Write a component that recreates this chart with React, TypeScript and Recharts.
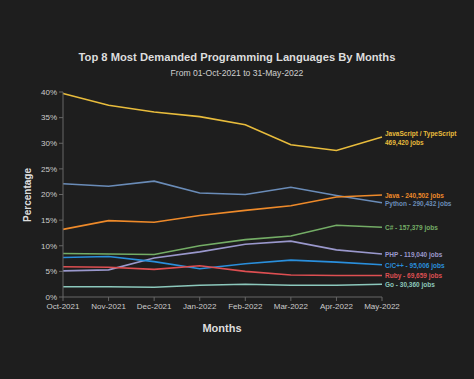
import { LineChart, Line, XAxis, YAxis, LabelList } from 'recharts'

const months = ['Oct-2021', 'Nov-2021', 'Dec-2021', 'Jan-2022', 'Feb-2022', 'Mar-2022', 'Apr-2022', 'May-2022']

const jsTs = [39.7, 37.4, 36.1, 35.2, 33.6, 29.7, 28.6, 31.2]
const python = [22.1, 21.6, 22.6, 20.3, 20.0, 21.4, 19.8, 18.4]
const java = [13.2, 14.9, 14.6, 15.9, 16.9, 17.8, 19.5, 19.9]
const csharp = [8.5, 8.4, 8.3, 10.0, 11.2, 11.9, 14.0, 13.6]
const php = [5.1, 5.3, 7.6, 8.8, 10.3, 10.9, 9.2, 8.4]
const cpp = [7.7, 7.9, 6.9, 5.5, 6.5, 7.2, 6.8, 6.3]
const ruby = [5.9, 5.8, 5.4, 6.1, 5.0, 4.3, 4.2, 4.2]
const go = [2.0, 2.0, 1.9, 2.3, 2.5, 2.3, 2.3, 2.5]

const yTicks = [0, 5, 10, 15, 20, 25, 30, 35, 40]

const series = [
  { key: 'js', values: jsTs, color: '#e8bc3c', label: ['JavaScript / TypeScript', '469,420 jobs'] },
  { key: 'python', values: python, color: '#6a8cb8', label: ['Python - 290,432 jobs'] },
  { key: 'java', values: java, color: '#ee8a2a', label: ['Java - 240,502 jobs'] },
  { key: 'csharp', values: csharp, color: '#74ad66', label: ['C# - 157,379 jobs'] },
  { key: 'php', values: php, color: '#9a98cc', label: ['PHP - 119,040 jobs'] },
  { key: 'cpp', values: cpp, color: '#2a8fdc', label: ['C/C++ - 95,006 jobs'] },
  { key: 'ruby', values: ruby, color: '#de4f52', label: ['Ruby - 69,659 jobs'] },
  { key: 'go', values: go, color: '#8cc8bc', label: ['Go - 30,360 jobs'] },
]

const data = months.map((m, i) => {
  const row: Record<string, string | number> = { month: m }
  series.forEach(s => { row[s.key] = s.values[i] })
  return row
})

const font = '"Liberation Sans", Arial, sans-serif'

function endLabel(lines: string[], color: string) {
  return (props: any) => {
    const { x, y, index } = props
    if (index !== months.length - 1) return null
    const lh = 9
    const start = y - ((lines.length - 1) * lh) / 2
    return (
      <text x={x + 3} y={start} fill={color} fontSize={6.5} fontWeight="bold" fontFamily={font} dominantBaseline="central">
        {lines.map((l, i) => (
          <tspan key={i} x={x + 3} y={start + i * lh}>{l}</tspan>
        ))}
      </text>
    )
  }
}

export default function App() {
  return (
    <div style={{ position: 'fixed', left: 0, top: 0, width: 474, height: 379, background: '#1e1e1e', fontFamily: font }}>
      <div style={{ position: 'absolute', top: 51, width: 474, textAlign: 'center', color: '#dddddd', fontSize: 11.2, fontWeight: 'bold' }}>
        Top 8 Most Demanded Programming Languages By Months
      </div>
      <div style={{ position: 'absolute', top: 68, width: 474, textAlign: 'center', color: '#cfcfcf', fontSize: 8.6 }}>
        From 01-Oct-2021 to 31-May-2022
      </div>
      <div style={{ position: 'absolute', left: 27, top: 195, transform: 'translate(-50%, -50%) rotate(-90deg)', color: '#dddddd', fontSize: 10, fontWeight: 'bold', whiteSpace: 'nowrap' }}>
        Percentage
      </div>
      <div style={{ position: 'absolute', top: 322, left: 222, transform: 'translateX(-50%)', color: '#dddddd', fontSize: 11, fontWeight: 'bold' }}>
        Months
      </div>
      <LineChart width={474} height={379} data={data} margin={{ top: 92, right: 92, bottom: 60, left: 23 }} style={{ position: 'absolute', left: 0, top: 0 }}>
        <XAxis
          dataKey="month"
          interval={0}
          tick={{ fontSize: 8, fill: '#cccccc', fontFamily: font }}
          tickLine={{ stroke: '#666666' }}
          tickSize={4}
          axisLine={{ stroke: '#666666' }}
          height={22}
        />
        <YAxis
          domain={[0, 40]}
          ticks={yTicks}
          tickFormatter={v => `${v}%`}
          tick={{ fontSize: 8, fill: '#cccccc', fontFamily: font }}
          tickLine={{ stroke: '#666666' }}
          tickSize={4}
          axisLine={{ stroke: '#666666' }}
          width={40}
        />
        {series.map(s => (
          <Line key={s.key} dataKey={s.key} stroke={s.color} strokeWidth={1.6} dot={false} isAnimationActive={false}>
            <LabelList dataKey={s.key} content={endLabel(s.label, s.color)} />
          </Line>
        ))}
      </LineChart>
    </div>
  )
}
